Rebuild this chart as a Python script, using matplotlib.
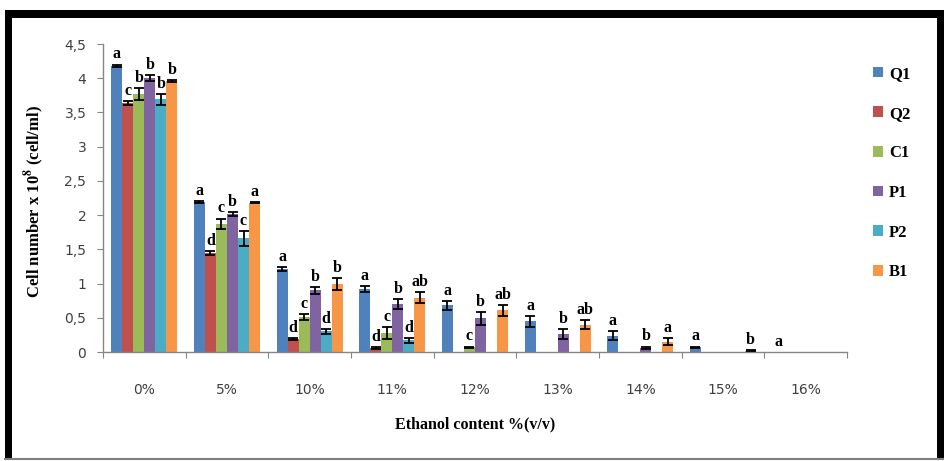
import numpy as np
import matplotlib
matplotlib.use("Agg")
import matplotlib.pyplot as plt
from matplotlib.patches import Rectangle, Patch
from matplotlib.lines import Line2D

nan = np.nan

categories = ['0%', '5%', '10%', '11%', '12%', '13%', '14%', '15%', '16%']
series = ['Q1', 'Q2', 'C1', 'P1', 'P2', 'B1']
colors = ['#4F81BD', '#C0504D', '#9BBB59', '#8064A2', '#4BACC6', '#F79646']

q1 = [4.18, 2.19, 1.21, 0.92, 0.68, 0.45, 0.24, 0.07, 0.0]
q1_err = [0.02, 0.02, 0.03, 0.05, 0.07, 0.08, 0.07, 0.01, 0.0]
q1_sig = ['a', 'a', 'a', 'a', 'a', 'a', 'a', 'a', 'a']

q2 = [3.64, 1.45, 0.19, 0.06, nan, nan, nan, nan, nan]
q2_err = [0.03, 0.03, 0.02, 0.01, 0, 0, 0, 0, 0]
q2_sig = ['c', 'd', 'd', 'd', '', '', '', '', '']

c1 = [3.77, 1.87, 0.51, 0.28, 0.07, nan, nan, nan, nan]
c1_err = [0.09, 0.08, 0.04, 0.09, 0.01, 0, 0, 0, 0]
c1_sig = ['b', 'c', 'c', 'c', 'c', '', '', '', '']

p1 = [4.00, 2.02, 0.90, 0.70, 0.49, 0.26, 0.06, nan, nan]
p1_err = [0.04, 0.03, 0.05, 0.07, 0.09, 0.07, 0.02, 0, 0]
p1_sig = ['b', 'b', 'b', 'b', 'b', 'b', 'b', '', '']

p2 = [3.69, 1.66, 0.30, 0.17, nan, nan, nan, nan, nan]
p2_err = [0.08, 0.11, 0.04, 0.04, 0, 0, 0, 0, 0]
p2_sig = ['b', 'c', 'd', 'd', '', '', '', '', '']

b1 = [3.96, 2.18, 0.99, 0.79, 0.61, 0.40, 0.15, 0.02, nan]
b1_err = [0.01, 0.01, 0.09, 0.08, 0.08, 0.07, 0.05, 0.005, 0]
b1_sig = ['b', 'a', 'b', 'ab', 'ab', 'ab', 'a', 'b', '']

values = [q1, q2, c1, p1, p2, b1]
errors = [q1_err, q2_err, c1_err, p1_err, p2_err, b1_err]
letters = [q1_sig, q2_sig, c1_sig, p1_sig, p2_sig, b1_sig]

yticks = [0, 0.5, 1, 1.5, 2, 2.5, 3, 3.5, 4, 4.5]
ytick_labels = ['0', '0,5', '1', '1,5', '2', '2,5', '3', '3,5', '4', '4,5']

W, H = 944, 461
fig = plt.figure(figsize=(W / 100, H / 100), dpi=100)
ax = fig.add_axes([103 / W, 1 - 352 / H, (847 - 103) / W, (352 - 44) / H])

serif = 'Liberation Serif'
n = len(series)
bw = 0.8 / n
x = np.arange(len(categories))

for i, (vals, errs, sigs) in enumerate(zip(values, errors, letters)):
    offs = x - 0.4 + bw * (i + 0.5)
    for xi, v, e, s in zip(offs, vals, errs, sigs):
        if np.isnan(v):
            continue
        ax.bar(xi, v, width=bw, color=colors[i], edgecolor='none', zorder=2)
        if e > 0:
            ax.errorbar(xi, v, yerr=e, fmt='none', ecolor='black',
                        elinewidth=1.3, capsize=3.5, capthick=1.3, zorder=3)
        elif v > 0:
            ax.plot([xi - bw * 0.3, xi + bw * 0.3], [v, v], color='black',
                    lw=2, zorder=3, solid_capstyle='butt')
        if s:
            ax.annotate(s, (xi, v + e), xytext=(0, 1.5),
                        textcoords='offset points', ha='center', va='bottom',
                        fontsize=11.5, fontweight='bold', family=serif,
                        color='black', zorder=4)

ax.set_xlim(-0.5, len(categories) - 0.5)
ax.set_ylim(0, 4.5)
ax.set_yticks(yticks)
ax.set_yticklabels(ytick_labels)
ax.set_xticks(np.arange(len(categories) + 1) - 0.5)
ax.set_xticklabels([])
ax.set_xticks(x, minor=True)
ax.set_xticklabels(categories, minor=True)

for side in ['top', 'right']:
    ax.spines[side].set_visible(False)
for side in ['left', 'bottom']:
    ax.spines[side].set_color('#868686')
    ax.spines[side].set_linewidth(1.0)

ax.tick_params(axis='y', which='major', direction='out', length=4,
               color='#868686', labelsize=10, labelcolor='#404040', pad=8)
ax.tick_params(axis='x', which='major', direction='out', length=4,
               color='#868686')
ax.tick_params(axis='x', which='minor', length=0, labelsize=10,
               labelcolor='#404040', pad=22)

fig.text(475 / W, 1 - 424 / H, 'Ethanol content %(v/v)', ha='center',
         va='center', fontsize=11.5, fontweight='bold', family=serif)
plt.rcParams['mathtext.fontset'] = 'stix'
fig.text(34 / W, 1 - 202 / H, r'Cell number x 10$^{\mathbf{8}}$ (cell/ml)',
         ha='center', va='center', rotation=90, fontsize=12,
         fontweight='bold', family=serif)

handles = [Patch(facecolor=c, edgecolor='none') for c in colors]
fig.legend(handles, series, loc='upper left',
           bbox_to_anchor=(858 / W, 1 - 51 / H), frameon=False,
           handlelength=0.6, handleheight=0.6, handletextpad=0.35,
           labelspacing=1.42, prop={'family': serif, 'weight': 'bold',
                                    'size': 12})

# picture frame
fig.add_artist(Rectangle((5 / W, 1 - 18 / H), (W - 5) / W, 8 / H,
                         transform=fig.transFigure, color='black', lw=0))
fig.add_artist(Rectangle((5 / W, 1 - 459 / H), 7 / W, 449 / H,
                         transform=fig.transFigure, color='black', lw=0))
fig.add_artist(Rectangle((937 / W, 1 - 459 / H), 7 / W, 449 / H,
                         transform=fig.transFigure, color='black', lw=0))
fig.add_artist(Line2D([5 / W, 1], [1 - 459 / H, 1 - 459 / H],
                      transform=fig.transFigure, color='#808080', lw=1.5))

fig.savefig('out.png', dpi=100)
